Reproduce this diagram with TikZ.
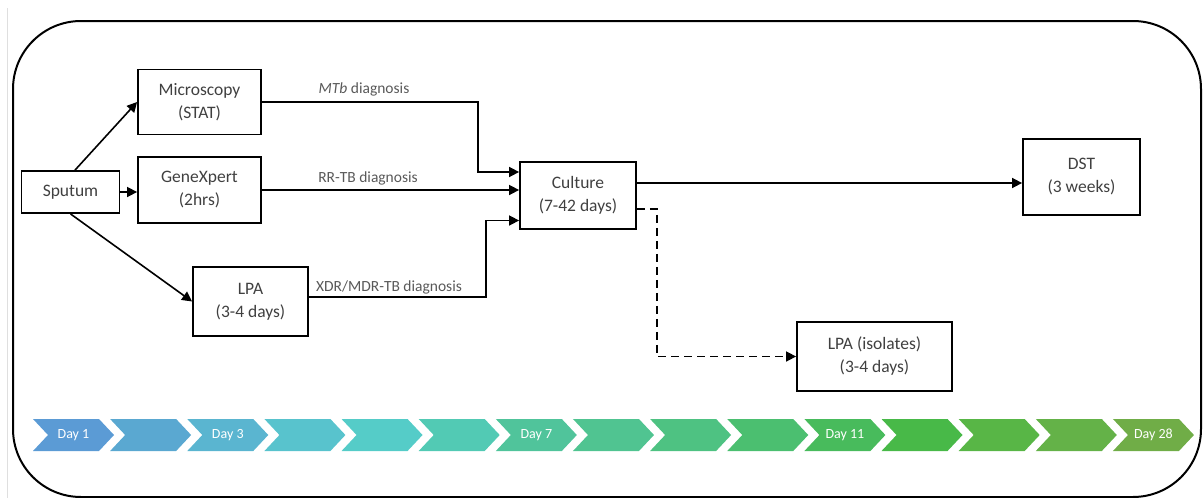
\documentclass[tikz,border=0pt]{standalone}
\usepackage{fontspec}
\setmainfont{Carlito}
\usepackage{tikz}
\usetikzlibrary{shapes.geometric, arrows.meta}
\definecolor{boxtext}{RGB}{64,64,64}
\definecolor{labeltext}{RGB}{89,89,89}
\tikzstyle{process} = [rectangle, text centered, align=center, draw=black, line width=1.8pt, text=boxtext, font=\fontsize{17.5}{23}\selectfont]
\tikzstyle{diag} = [text=labeltext, font=\fontsize{15.5}{18}\selectfont, inner sep=0pt]
\tikzstyle{daytext} = [text=white, font=\fontsize{14}{16}\selectfont, inner sep=0pt]
\tikzstyle{arrow} = [line width=1.6pt, -{Triangle[length=10pt,width=10pt]}]
\tikzstyle{dasharrow} = [arrow, dash pattern=on 8pt off 5pt]

\begin{document}
\begin{tikzpicture}[x=1pt, y=-1pt]
	\useasboundingbox (0,0) rectangle (1203,498);
	\draw[gray!25, line width=0.8pt] (7,8) -- (7,498);
	\draw[line width=2pt, rounded corners=68pt] (13,21) rectangle (1201,497);
	
	\node[process, minimum width=98pt, minimum height=42pt](sputum) at (70.5,192){Sputum};
	\node[process, minimum width=123pt, minimum height=65pt](microscopy) at (199.5,102){Microscopy\\(STAT)};
	\node[process, minimum width=123pt, minimum height=66pt](genexpert) at (199.5,190){GeneXpert\\(2hrs)};
	\node[process, minimum width=115pt, minimum height=69pt](lpa) at (250.5,301.5){LPA\\(3-4 days)};
	\node[process, minimum width=116pt, minimum height=67pt](culture) at (578,195.5){Culture\\(7-42 days)};
	\node[process, minimum width=117pt, minimum height=76pt](dst) at (1081.5,177){DST\\(3 weeks)};
	\node[process, minimum width=155pt, minimum height=69pt](lpa_isolates) at (874.5,356.5){LPA (isolates)\\(3-4 days)};
	
	\node[diag](mtb_diag) at (364,89){\textit{MTb} diagnosis};
	\node[diag](rrtb_diag) at (368,178){RR-TB diagnosis};
	\node[diag](xdr_diag) at (389,287){XDR/MDR-TB diagnosis};
	
	\draw[arrow] ([xshift=4.5pt]sputum.north) -- (microscopy.west);
	\draw[arrow] (sputum.east) -- (sputum.east -| genexpert.west);
	\draw[arrow] (sputum.south) -- (lpa.west);
	\draw[arrow] (microscopy.east) -| ([xshift=-41pt,yshift=23.5pt]culture.west) -- ([yshift=23.5pt]culture.west);
	\draw[arrow] (genexpert.east) -- (genexpert.east -| culture.west);
	\draw[arrow] ([yshift=4.5pt]lpa.east) -| ([xshift=-33pt,yshift=-25pt]culture.west) -- ([yshift=-25pt]culture.west);
	\draw[arrow] ([yshift=12.5pt]culture.east) -- ([yshift=12.5pt]culture.east -| dst.west);
	\draw[dasharrow] ([yshift=-13.5pt]culture.east) -| ([xshift=-139pt]lpa_isolates.west) -- (lpa_isolates.west);
	
	% timeline
	\foreach \i/\col/\day in {0/{91,155,213}/Day 1, 1/{90,168,209}/, 2/{90,181,208}/Day 3, 3/{88,195,205}/, 4/{85,204,200}/, 5/{82,202,180}/, 6/{80,196,155}/Day 7, 7/{80,196,145}/, 8/{78,194,130}/, 9/{75,191,112}/, 10/{72,187,92}/Day 11, 11/{72,185,72}/, 12/{88,182,70}/, 13/{100,178,72}/, 14/{112,173,71}/Day 28}{
		\definecolor{chv}{RGB}{\col}
		\pgfmathsetmacro\xa{33+77.14*\i}
		\fill[chv] (\xa,419) -- ++(66,0) -- ++(15,16) -- ++(-15,16) -- ++(-66,0) -- ++(15,-16) -- cycle;
		\node[daytext](day\i) at (\xa+40.5,435){\day};
	}
\end{tikzpicture}
\end{document}
